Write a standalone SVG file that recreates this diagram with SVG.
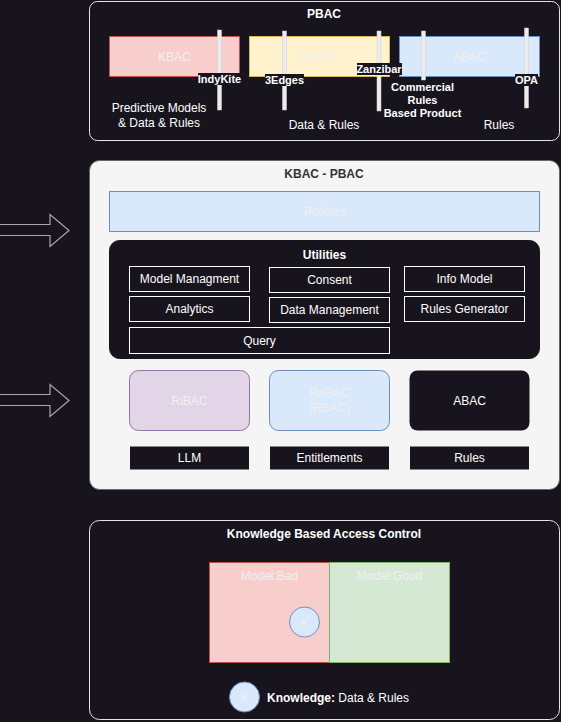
<svg xmlns="http://www.w3.org/2000/svg" width="561" height="722" viewBox="0 0 561 722">
<style>
text{font-family:"Liberation Sans",Arial,sans-serif;font-size:12px;text-anchor:middle}
.b{font-weight:bold}
.w{fill:#ffffff}
.lt{fill:#f0f0f0}
.dk{fill:#18141d}
.red{fill:#f8cecc;stroke:#b85450}
.yel{fill:#fff2cc;stroke:#d6b656}
.blu{fill:#dae8fc;stroke:#6c8ebf}
.grn{fill:#d5e8d4;stroke:#82b366}
.pur{fill:#e1d5e7;stroke:#9673a6}
.ub{fill:#18141d;stroke:#ffffff}
.bar{fill:#ececec;stroke:#cfcfcf;stroke-width:0.5}
.lbl{fill:#18141d}
.arr{fill:#18141d;stroke:#a8a8a8;stroke-width:1.2}
</style>
<rect width="561" height="722" fill="#18141d"/>

<g id="pbac">
<rect x="89.5" y="1.5" width="470" height="139" rx="8" fill="#18141d" stroke="#e6e6e6"/>
<text x="324" y="18" class="b w">PBAC</text>
</g>
<g id="kbac-top">
<rect x="109.5" y="36.5" width="130" height="40" class="red"/>
<text x="174.5" y="60.5" class="lt">KBAC</text>
</g>
<g id="rebac-top">
<rect x="249.5" y="36.5" width="140" height="40" class="yel"/>
<text x="319.5" y="60.5" class="lt">ReBAC</text>
</g>
<g id="abac-top">
<rect x="399.5" y="36.5" width="140" height="40" class="blu"/>
<text x="469.5" y="60.5" class="lt">ABAC</text>
</g>
<g id="indykite">
<rect x="217.5" y="30" width="4" height="80" class="bar"/>
<rect x="198" y="73" width="43" height="12" class="lbl"/>
<text x="219.5" y="83" class="b w" style="font-size:11px">IndyKite</text>
</g>
<g id="3edges">
<rect x="282.5" y="31" width="4" height="79" class="bar"/>
<rect x="265" y="74" width="39" height="12" class="lbl"/>
<text x="284.5" y="84" class="b w" style="font-size:11px">3Edges</text>
</g>
<g id="zanzibar">
<rect x="377" y="31" width="4" height="80" class="bar"/>
<rect x="357" y="63" width="45" height="12" class="lbl"/>
<text x="379" y="73" class="b w" style="font-size:11px">Zanzibar</text>
</g>
<g id="commercial">
<rect x="421.5" y="31" width="4" height="49" class="bar"/>
<text x="422.5" y="91" class="b w" style="font-size:11px">Commercial</text>
<text x="422.5" y="104" class="b w" style="font-size:11px">Rules</text>
<text x="422.5" y="117" class="b w" style="font-size:11px">Based Product</text>
</g>
<g id="opa">
<rect x="524.5" y="28" width="4" height="80" class="bar"/>
<rect x="515" y="74" width="23" height="12" class="lbl"/>
<text x="526.5" y="84" class="b w" style="font-size:11px">OPA</text>
</g>
<g id="pbac-labels">
<text x="159" y="112" class="w">Predictive Models</text>
<text x="159" y="127" class="w">&amp; Data &amp; Rules</text>
<text x="324" y="129" class="w">Data &amp; Rules</text>
<text x="499" y="129" class="w">Rules</text>
</g>

<g id="kbac-pbac">
<rect x="89.5" y="160.5" width="470" height="329" rx="10" fill="#f5f5f5" stroke="#666666"/>
<text x="324" y="178" class="b" fill="#333333">KBAC - PBAC</text>
</g>
<g id="policies">
<rect x="109.5" y="191.5" width="430" height="40" class="blu"/>
<text x="324.5" y="215.5" class="lt">Policies</text>
</g>
<g id="utilities">
<rect x="109.5" y="240.5" width="430" height="118" rx="10" fill="#18141d" stroke="#18141d"/>
<text x="324.5" y="259" class="b w">Utilities</text>
</g>
<g id="model-managment">
<rect x="129.5" y="266.5" width="120" height="25" class="ub"/>
<text x="189.5" y="283" class="w">Model Managment</text>
</g>
<g id="consent">
<rect x="269.5" y="267.5" width="120" height="25" class="ub"/>
<text x="329.5" y="284" class="w">Consent</text>
</g>
<g id="info-model">
<rect x="404.5" y="266.5" width="120" height="25" class="ub"/>
<text x="464.5" y="283" class="w">Info Model</text>
</g>
<g id="analytics">
<rect x="129.5" y="296.5" width="120" height="25" class="ub"/>
<text x="189.5" y="313" class="w">Analytics</text>
</g>
<g id="data-management">
<rect x="269.5" y="297.5" width="120" height="25" class="ub"/>
<text x="329.5" y="314" class="w">Data Management</text>
</g>
<g id="rules-generator">
<rect x="404.5" y="296.5" width="120" height="25" class="ub"/>
<text x="464.5" y="313" class="w">Rules Generator</text>
</g>
<g id="query">
<rect x="129.5" y="327.5" width="260" height="26" class="ub"/>
<text x="259.5" y="345" class="w">Query</text>
</g>
<g id="ribac">
<rect x="129.5" y="370.5" width="120" height="60" rx="9" class="pur"/>
<text x="189.5" y="404.5" class="lt">RiBAC</text>
</g>
<g id="rebac-rbac">
<rect x="269.5" y="370.5" width="120" height="60" rx="9" class="blu"/>
<text x="329.5" y="397" class="lt">ReBAC</text>
<text x="329.5" y="412" class="lt">(RBAC)</text>
</g>
<g id="abac">
<rect x="409.5" y="370.5" width="120" height="60" rx="8" fill="#18141d"/>
<text x="469.5" y="404.5" class="w">ABAC</text>
</g>
<g id="llm">
<rect x="130" y="446.5" width="119" height="23" class="dk"/>
<text x="189.5" y="462" class="w">LLM</text>
</g>
<g id="entitlements">
<rect x="270" y="446.5" width="119" height="23" class="dk"/>
<text x="329.5" y="462" class="w">Entitlements</text>
</g>
<g id="rules">
<rect x="410" y="446.5" width="119" height="23" class="dk"/>
<text x="469.5" y="462" class="w">Rules</text>
</g>

<g id="kbac-bottom">
<rect x="89.5" y="520.5" width="470" height="199" rx="10" fill="#18141d" stroke="#e6e6e6"/>
<text x="324" y="538" class="b w">Knowledge Based Access Control</text>
</g>
<g id="model-bad">
<rect x="209.5" y="562.5" width="120" height="100" class="red"/>
<text x="269.5" y="580" class="lt">Model:Bad</text>
</g>
<g id="model-good">
<rect x="329.5" y="562.5" width="120" height="100" class="grn"/>
<text x="389.5" y="580" class="lt">Model:Good</text>
</g>
<g id="k-inner">
<circle cx="304.5" cy="622" r="15" class="blu"/>
<text x="304.5" y="626.5" class="lt">K</text>
</g>
<g id="k-legend">
<circle cx="244.5" cy="697" r="15" class="blu"/>
<text x="244.5" y="701.5" class="lt">K</text>
<text x="267" y="701.5" class="w" style="text-anchor:start"><tspan font-weight="bold">Knowledge:</tspan> Data &amp; Rules</text>
</g>

<g id="connectors">
<polygon points="-5,224.5 50,224.5 50,214.5 69,230.5 50,246.5 50,235.5 -5,235.5" class="arr"/>
<polygon points="-5,394.5 50,394.5 50,384.5 69,400.5 50,416.5 50,405.5 -5,405.5" class="arr"/>
</g>
</svg>
